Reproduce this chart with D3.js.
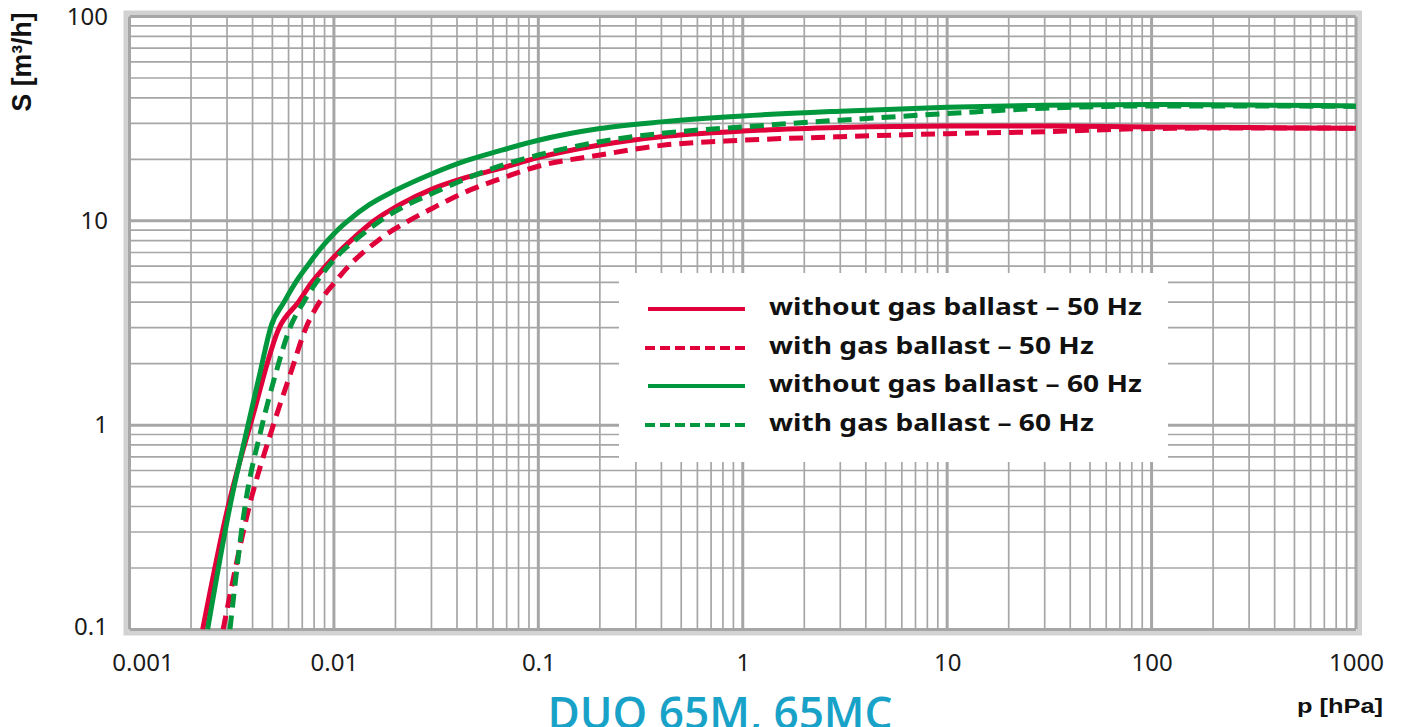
<!DOCTYPE html>
<html>
<head>
<meta charset="utf-8">
<script src="https://cdn.jsdelivr.net/npm/d3@7"></script>
<style>
  body { margin: 0; background: #fff; }
  svg { display: block; }
</style>
</head>
<body>
<script>
const width = 1402;
const height = 727;

// pumping speed S [m3/h] vs pressure p [hPa]
const pNoGb50 = [0.00228, 0.003, 0.004, 0.0054, 0.0067, 0.0078, 0.0091, 0.0105, 0.0121, 0.0138, 0.0157, 0.021, 0.0302, 0.0444, 0.0644, 0.1, 0.2, 0.4, 1, 3, 10, 30, 100, 300, 1000];
const sNoGb50 = [0.1, 0.38, 1.1, 3, 4, 5, 6, 7, 8, 9, 10, 12, 14.3, 16.3, 18.0, 20.4, 23.5, 25.8, 27.5, 28.6, 29.1, 29.1, 28.8, 28.6, 28.4];

const pGb50 = [0.00287, 0.0039, 0.00498, 0.0062, 0.0073, 0.0085, 0.0101, 0.0118, 0.0139, 0.0164, 0.0194, 0.0232, 0.0302, 0.0444, 0.0644, 0.1, 0.2, 0.4, 1, 3, 10, 30, 100, 300, 1000];
const sGb50 = [0.1, 0.42, 0.956, 1.85, 3, 4, 5, 6, 7, 8, 9, 10, 11.5, 13.9, 16.0, 18.5, 21.0, 23.4, 24.8, 25.8, 26.7, 27.3, 28.3, 28.5, 28.4];

const pNoGb60 = [0.00241, 0.0031, 0.0038, 0.0044, 0.0049, 0.0057, 0.0065, 0.0074, 0.0083, 0.0093, 0.0104, 0.0117, 0.0149, 0.02, 0.0302, 0.0444, 0.0644, 0.1, 0.2, 0.4, 1, 3, 10, 30, 100, 300, 1000];
const sNoGb60 = [0.1, 0.4, 1.0, 1.9, 3.0, 4, 5, 6, 7, 8, 9, 10, 12, 14.1, 17.0, 19.7, 22.0, 24.8, 28.3, 30.5, 32.6, 34.4, 36.0, 36.8, 37.1, 36.9, 36.5];

const pGb60 = [0.0031, 0.0037, 0.0044, 0.0052, 0.0061, 0.0071, 0.0082, 0.0094, 0.0108, 0.0126, 0.0146, 0.0168, 0.0245, 0.0302, 0.0444, 0.0644, 0.1, 0.2, 0.4, 1, 3, 10, 30, 100, 300, 1000];
const sGb60 = [0.1, 0.42, 0.95, 1.8, 3, 4, 5, 6, 7, 8, 9, 10, 12.4, 13.6, 16.1, 18.5, 21.0, 24.4, 26.8, 28.8, 31.1, 33.5, 35.6, 36.5, 36.5, 36.3];

const xTicks = [0.001, 0.01, 0.1, 1, 10, 100, 1000];
const xTickLabels = ['0.001', '0.01', '0.1', '1', '10', '100', '1000'];
const yTicks = [0.1, 1, 10, 100];
const yTickLabels = ['0.1', '1', '10', '100'];

const seriesNames = [
  'without gas ballast – 50 Hz',
  'with gas ballast – 50 Hz',
  'without gas ballast – 60 Hz',
  'with gas ballast – 60 Hz'
];

const red = '#e0003a';
const green = '#00973d';

const series = [
  { name: seriesNames[0], p: pNoGb50, s: sNoGb50, color: red, dashed: false },
  { name: seriesNames[1], p: pGb50, s: sGb50, color: red, dashed: true },
  { name: seriesNames[2], p: pNoGb60, s: sNoGb60, color: green, dashed: false },
  { name: seriesNames[3], p: pGb60, s: sGb60, color: green, dashed: true }
];

const x = d3.scaleLog()
  .domain([0.001, 1000])
  .range([129.5, 1356]);

const y = d3.scaleLog()
  .domain([0.1, 100])
  .range([629.5, 16.5]);

const svg = d3.select('body')
  .append('svg')
  .attr('width', width)
  .attr('height', height);

// light outer frame
svg.append('rect')
  .attr('x', x.range()[0] - 3.5)
  .attr('y', y.range()[1] - 3.5)
  .attr('width', x.range()[1] - x.range()[0] + 7)
  .attr('height', y.range()[0] - y.range()[1] + 7)
  .attr('fill', '#fff')
  .attr('stroke', '#d2d2d2')
  .attr('stroke-width', 5);

const isDecade = v => Math.abs(Math.log10(v) - Math.round(Math.log10(v))) < 1e-9;

const grid = svg.append('g').attr('stroke', '#a6a6a6');

grid.selectAll('.vx')
  .data(x.ticks())
  .join('line')
  .attr('x1', d => x(d))
  .attr('x2', d => x(d))
  .attr('y1', y.range()[1])
  .attr('y2', y.range()[0])
  .attr('stroke-width', d => isDecade(d) ? 3 : 1.7);

grid.selectAll('.hy')
  .data(y.ticks())
  .join('line')
  .attr('x1', x.range()[0])
  .attr('x2', x.range()[1])
  .attr('y1', d => y(d))
  .attr('y2', d => y(d))
  .attr('stroke-width', d => isDecade(d) ? 3 : 1.7);

// curves
const line = d3.line()
  .curve(d3.curveMonotoneX)
  .x(d => x(d[0]))
  .y(d => y(d[1]));

svg.append('defs').append('clipPath')
  .attr('id', 'plot')
  .append('rect')
  .attr('x', x.range()[0])
  .attr('y', y.range()[1])
  .attr('width', x.range()[1] - x.range()[0])
  .attr('height', y.range()[0] - y.range()[1]);

svg.append('g')
  .attr('clip-path', 'url(#plot)')
  .selectAll('path')
  .data(series)
  .join('path')
  .attr('fill', 'none')
  .attr('stroke', d => d.color)
  .attr('stroke-width', 5)
  .attr('stroke-dasharray', d => d.dashed ? '14 8' : null)
  .attr('d', d => line(d.p.map((p, i) => [p, d.s[i]])));

// axes labels
const tickFont = '"Noto Sans", "Open Sans", sans-serif';

const xAxis = g => g
  .attr('transform', `translate(0,${y.range()[0]})`)
  .call(d3.axisBottom(x).tickValues(xTicks).tickFormat((d, i) => xTickLabels[i]).tickSize(0).tickPadding(24))
  .call(g => g.select('.domain').remove())
  .call(g => g.selectAll('text')
    .attr('font-family', tickFont)
    .attr('font-size', 24)
    .attr('fill', '#1a1a1a'))
  .call(g => g.select('.tick:first-of-type text').attr('dx', 13));

const yAxis = g => g
  .attr('transform', `translate(108,0)`)
  .call(d3.axisLeft(y).tickValues(yTicks).tickFormat((d, i) => yTickLabels[i]).tickSize(0).tickPadding(0))
  .call(g => g.select('.domain').remove())
  .call(g => g.selectAll('text')
    .attr('font-family', tickFont)
    .attr('font-size', 24)
    .attr('fill', '#1a1a1a'))
  .call(g => g.select('.tick:first-of-type text').attr('dy', '0.2em'));

svg.append('g').call(xAxis);
svg.append('g').call(yAxis);

svg.append('text')
  .attr('transform', 'translate(31,62) rotate(-90)')
  .attr('text-anchor', 'middle')
  .attr('font-family', '"Liberation Sans", Arial, sans-serif')
  .attr('font-weight', 'bold')
  .attr('font-size', 28)
  .attr('fill', '#111')
  .attr('textLength', 99)
  .attr('lengthAdjust', 'spacingAndGlyphs')
  .text('S [m³/h]');

svg.append('text')
  .attr('x', 1383)
  .attr('y', 713)
  .attr('text-anchor', 'end')
  .attr('font-family', '"Liberation Sans", Arial, sans-serif')
  .attr('font-weight', 'bold')
  .attr('font-size', 21)
  .attr('fill', '#111')
  .attr('textLength', 86)
  .attr('lengthAdjust', 'spacingAndGlyphs')
  .text('p [hPa]');

// legend
const legend = svg.append('g');

legend.append('rect')
  .attr('x', 619)
  .attr('y', 273)
  .attr('width', 549)
  .attr('height', 189)
  .attr('fill', '#fff');

const rowY = [309, 348, 386, 425];

const rows = legend.selectAll('.row')
  .data(series)
  .join('g')
  .attr('transform', (d, i) => `translate(0,${rowY[i]})`);

rows.append('line')
  .attr('x1', d => d.dashed ? 645 : 648)
  .attr('x2', d => d.dashed ? 748 : 745)
  .attr('stroke', d => d.color)
  .attr('stroke-width', 4)
  .attr('stroke-dasharray', d => d.dashed ? '10 5' : null);

const labels = rows.append('text')
  .attr('x', 0)
  .attr('y', 6)
  .attr('font-family', tickFont)
  .attr('font-weight', 'bold')
  .attr('font-size', 24)
  .attr('fill', '#111')
  .text(d => d.name);

const k = 373 / labels.node().getComputedTextLength();
labels.attr('transform', `translate(769,0) scale(${k},1)`);

// title (cut by the bottom edge, as in the source image)
svg.append('text')
  .attr('x', 720)
  .attr('y', 729)
  .attr('text-anchor', 'middle')
  .attr('font-family', '"Open Sans", "Noto Sans", sans-serif')
  .attr('font-weight', 600)
  .attr('font-size', 46)
  .attr('fill', '#19a2c8')
  .attr('textLength', 345)
  .attr('lengthAdjust', 'spacingAndGlyphs')
  .text('DUO 65M, 65MC');
</script>
</body>
</html>
